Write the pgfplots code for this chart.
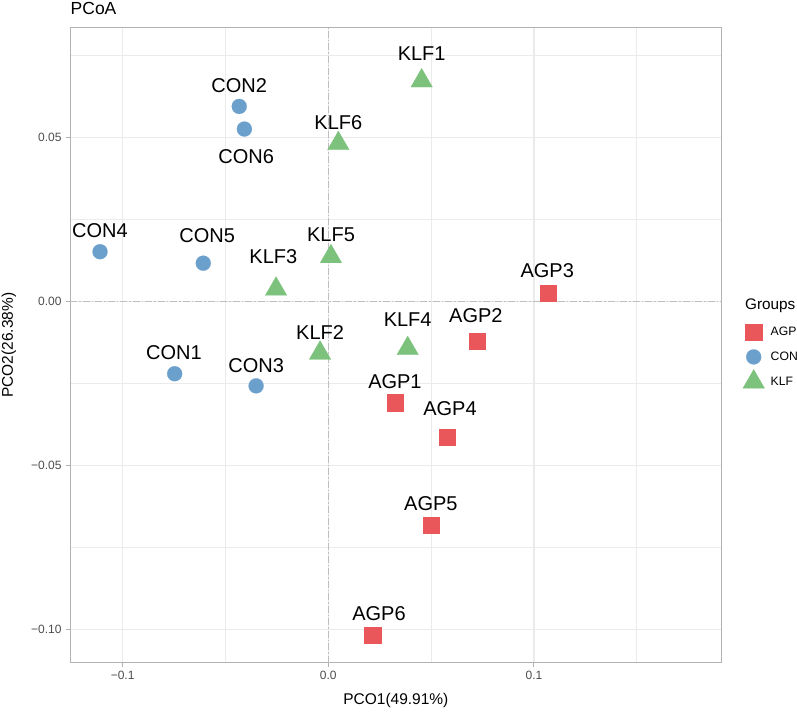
\documentclass[border=0pt]{standalone}
\usepackage{fontspec}
\setmainfont{Liberation Sans}
\usepackage{pgfplots}
\usepackage{pgfplotstable}
\pgfplotsset{compat=1.18}
\definecolor{cagp}{RGB}{233,87,91}
\definecolor{ccon}{RGB}{108,160,204}
\definecolor{cklf}{RGB}{124,194,124}
\definecolor{gridc}{RGB}{235,235,235}
\definecolor{zeroc}{RGB}{190,190,190}

\pgfplotstableread{
x y lab dx dy
0.0324 -0.0308 AGP1 0 21
0.0724 -0.0121 AGP2 -1.3 25.3
0.1068 0.0026 AGP3 -0.7 22.6
0.0577 -0.0413 AGP4 3 28
0.0499 -0.0681 AGP5 0 21.7
0.0216 -0.1016 AGP6 6.3 21
}\agpdata
\pgfplotstableread{
x y lab dx dy
-0.0747 -0.0220 CON1 -0.7 20.7
-0.0433 0.0595 CON2 0 20.7
-0.0351 -0.0257 CON3 0 20.3
-0.1110 0.0152 CON4 0 21.3
-0.0608 0.0117 CON5 4 27.6
-0.0408 0.0526 CON6 1.7 -27.4
}\condata
\pgfplotstableread{
x y lab dx dy
0.0454 0.0673 KLF1 0 27.7
-0.0040 -0.0157 KLF2 0 21
-0.0254 0.0038 KLF3 -2.7 32.4
0.0386 -0.0143 KLF4 0 28.7
0.0013 0.0137 KLF5 0 21.5
0.0049 0.0482 KLF6 0 21
}\klfdata

\pgfplotsset{
  labelled/.style={
    nodes near coords,
    point meta=explicit symbolic,
    visualization depends on={\thisrow{dx}\as\labdx},
    visualization depends on={\thisrow{dy}\as\labdy},
    every node near coord/.append style={anchor=center, inner sep=0pt, text=black, font=\fontsize{20}{24}\selectfont, xshift=\labdx pt, yshift=\labdy pt},
  },
  zeroline/.style={forget plot, draw=zeroc, line width=1.1pt, dash pattern=on 7pt off 2pt on 1.5pt off 2pt},
}

\begin{document}
\begin{tikzpicture}
\useasboundingbox (0,0) rectangle (797pt,712pt);
\begin{axis}[
  at={(70pt,49.3pt)}, anchor=south west,
  scale only axis, width=651.7pt, height=635pt,
  xmin=-0.1256, xmax=0.1913, ymin=-0.1101, ymax=0.0835,
  clip=false,
  axis line style={draw=gray!60, line width=1pt},
  xtick={-0.1,0,0.1}, xticklabels={−0.1,0.0,0.1},
  ytick={-0.1,-0.05,0,0.05}, yticklabels={−0.10,−0.05,0.00,0.05},
  minor xtick={-0.05,0.05,0.15},
  minor ytick={-0.075,-0.025,0.025,0.075},
  grid=both,
  major grid style={draw=gridc, line width=1.1pt},
  minor grid style={draw=gridc, line width=0.6pt},
  tick align=outside, xtick pos=bottom, ytick pos=left,
  major tick length=4pt, minor tick length=0pt,
  tick style={draw=gray!60, line width=1pt},
  /pgf/number format/assume math mode=true,
  tick label style={font=\fontsize{12}{14}\selectfont, text=black!70},
  xticklabel style={yshift=-1pt},
  yticklabel style={xshift=-1pt},
  xlabel={PCO1(49.91\%)},
  xlabel style={at={(axis description cs:0.5,0)}, anchor=center, yshift=-37.6pt, inner sep=0pt, font=\fontsize{15.5}{18}\selectfont},
  ylabel={PCO2(26.38\%)},
  ylabel style={at={(axis description cs:0,0.5)}, anchor=center, yshift=61.2pt, inner sep=0pt, font=\fontsize{15.5}{18}\selectfont},
  legend style={at={(axis description cs:1.0322,0.5409)}, anchor=north west, draw=none, fill=none, inner sep=0pt, row sep=0pt,
    font=\fontsize{12.2}{14}\selectfont, nodes={inner sep=0pt}},
  legend cell align=left,
  legend image code/.code={\path[draw=none,fill=none] (0pt,-12.5pt) rectangle (25pt,12.5pt); \draw[#1] plot coordinates {(8pt,0pt)};},
]
\addplot [zeroline] coordinates {(0,-0.1101) (0,0.0835)};
\addplot [zeroline] coordinates {(-0.1256,0) (0.1913,0)};
\addplot [labelled, only marks, mark=square*, mark size=8.2pt, mark options={fill=cagp, draw=cagp, line width=0.2pt}] table [x=x, y=y, meta=lab] {\agpdata};
\addlegendentry{AGP}
\addplot [labelled, only marks, mark=*, mark size=7.5pt, mark options={fill=ccon, draw=ccon, line width=0.2pt}] table [x=x, y=y, meta=lab] {\condata};
\addlegendentry{CON}
\addplot [labelled, only marks, mark=triangle*, mark size=12.5pt, mark options={fill=cklf, draw=cklf, line width=0.2pt}] table [x=x, y=y, meta=lab] {\klfdata};
\addlegendentry{KLF}
\node[anchor=base west, inner sep=0pt, font=\fontsize{15.3}{18}\selectfont] at (axis description cs:1.0356,0.5565) {Groups};
\node[anchor=base west, inner sep=0pt, font=\fontsize{17.5}{20}\selectfont] at (axis description cs:0,1) [yshift=12.7pt, xshift=0.5pt] {PCoA};
\end{axis}
\end{tikzpicture}
\end{document}
